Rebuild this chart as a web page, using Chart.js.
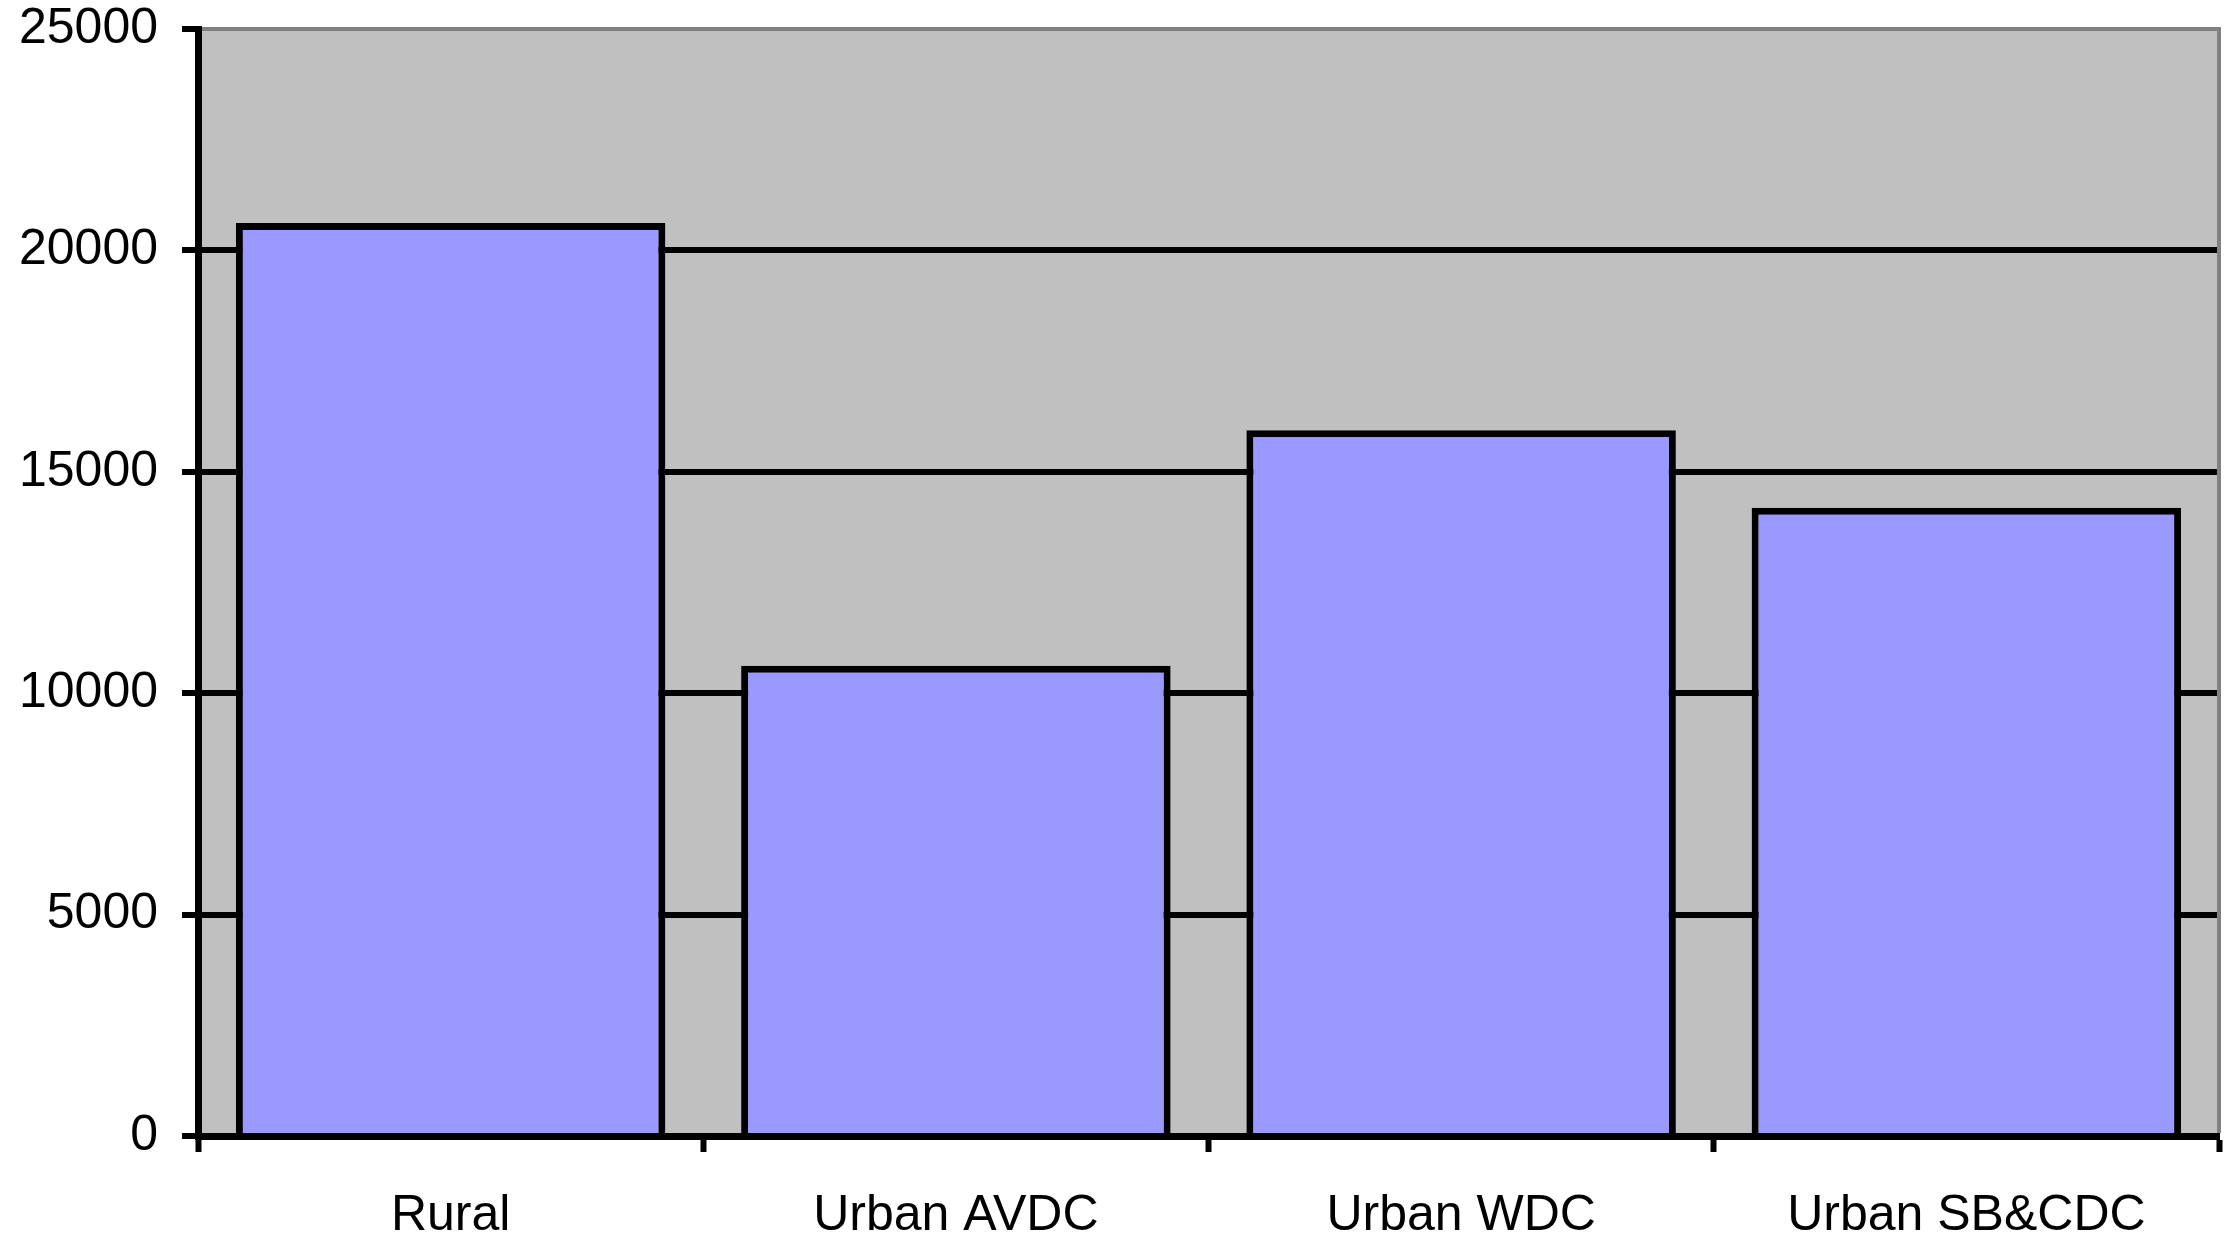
<!DOCTYPE html>
<html>
<head>
<meta charset="utf-8">
<title>Bar chart</title>
<script src="https://cdn.jsdelivr.net/npm/chart.js@4.4.1/dist/chart.umd.min.js"></script>
<style>
    html, body { margin: 0; padding: 0; background: #ffffff; }
    #mycanvas { display: block; }
</style>
</head>
<body>
<canvas id="mycanvas" width="2230" height="1238"></canvas>
<script>
var categories = ["Rural", "Urban AVDC", "Urban WDC", "Urban SB&CDC"];
var values = [20620, 10620, 15940, 14190];
var yTickValues = [0, 5000, 10000, 15000, 20000, 25000];

// grey plot area + grey frame on top and right
var plotFrame = {
    id: "plotFrame",
    beforeDraw: function(chart) {
        var a = chart.chartArea;
        var ctx = chart.ctx;
        ctx.save();
        ctx.fillStyle = "#c0c0c0";
        ctx.fillRect(a.left, a.top, a.right - a.left, a.bottom - a.top);
        ctx.restore();
    },
    afterDraw: function(chart) {
        var a = chart.chartArea;
        var ctx = chart.ctx;
        ctx.save();
        ctx.strokeStyle = "#808080";
        ctx.lineWidth = 4;
        ctx.beginPath();
        ctx.moveTo(a.right, a.top - 2);
        ctx.lineTo(a.right, a.bottom - 3);
        ctx.stroke();
        ctx.restore();
    }
};

var chartdata = {
    labels: categories,
    datasets: [
        {
            data: values,
            backgroundColor: "#9999ff",
            borderColor: "#000000",
            borderWidth: 7,
            barPercentage: 0.85,
            categoryPercentage: 1.0
        }
    ]
};

var ctx = document.getElementById("mycanvas");

var BarGraph = new Chart(ctx, {
    type: "bar",
    data: chartdata,
    plugins: [plotFrame],
    options: {
        responsive: false,
        devicePixelRatio: 1,
        animation: false,
        layout: { padding: { top: 29, right: 11, left: 0, bottom: 0 } },
        plugins: {
            legend: { display: false },
            tooltip: { enabled: false }
        },
        scales: {
            x: {
                offset: true,
                afterFit: function(scale) {
                    scale.height = 102;
                    scale.paddingLeft = 0;
                    scale.paddingRight = 0;
                },
                grid: {
                    offset: true,
                    drawOnChartArea: false,
                    drawTicks: true,
                    tickLength: 16,
                    tickColor: "#000000",
                    tickWidth: 6,
                    color: "#000000"
                },
                border: { display: true, color: "#000000", width: 7 },
                ticks: {
                    color: "#000000",
                    padding: 34,
                    maxRotation: 0,
                    font: { family: "Liberation Sans, Arial, sans-serif", size: 50 }
                }
            },
            y: {
                min: 0,
                max: 25000,
                afterFit: function(scale) {
                    scale.width = 198;
                    scale.paddingTop = 0;
                    scale.paddingBottom = 0;
                },
                afterBuildTicks: function(scale) {
                    scale.ticks = yTickValues.map(function(v) { return { value: v }; });
                },
                grid: {
                    color: function(c) {
                        return c.tick && c.tick.value === 25000 ? "#808080" : "#000000";
                    },
                    lineWidth: function(c) {
                        return c.tick && c.tick.value === 25000 ? 4 : 6;
                    },
                    tickLength: 16,
                    tickColor: "#000000",
                    tickWidth: 6
                },
                border: { display: true, color: "#000000", width: 7 },
                ticks: {
                    color: "#000000",
                    padding: 24,
                    font: { family: "Liberation Sans, Arial, sans-serif", size: 50 },
                    callback: function(v) { return String(v); }
                }
            }
        }
    }
});
</script>
</body>
</html>
